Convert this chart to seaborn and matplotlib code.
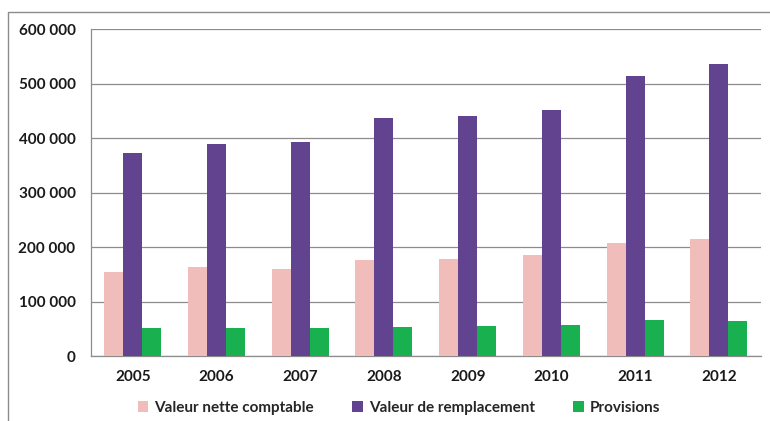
import matplotlib
matplotlib.use("Agg")
from matplotlib import pyplot as plt
from matplotlib.patches import Rectangle
from matplotlib.ticker import FuncFormatter, FixedLocator
import seaborn as sns
import pandas as pd
import numpy as np

years = ["2005", "2006", "2007", "2008", "2009", "2010", "2011", "2012"]
valeur_nette = [154000, 164000, 160000, 176000, 179000, 185000, 207000, 215000]
valeur_remplacement = [373000, 390000, 393000, 436000, 441000, 451000, 514000, 535000]
provisions = [51000, 52000, 52000, 54000, 55000, 57000, 66000, 64000]
series = ["Valeur nette comptable", "Valeur de remplacement", "Provisions"]
colors = ["#F0BDBA", "#62438F", "#19B14F"]

df = pd.DataFrame({
    "year": years * 3,
    "value": valeur_nette + valeur_remplacement + provisions,
    "serie": [series[0]] * 8 + [series[1]] * 8 + [series[2]] * 8,
})

sns.set_style("white")
plt.rcParams["font.family"] = ["Lato", "DejaVu Sans"]

fig = plt.figure(figsize=(7.7, 4.21), dpi=100)
ax = fig.add_axes([0.118, 0.154, 0.870, 0.777])

sns.barplot(data=df, x="year", y="value", hue="serie", palette=colors,
            width=0.68, saturation=1, ax=ax, edgecolor="none", zorder=3)

ax.set_ylim(0, 600000)
ax.set_xlim(-0.5, 7.5)
ax.set_yticks(np.arange(0, 600001, 100000))
ax.yaxis.set_major_formatter(FuncFormatter(lambda v, p: f"{int(v):,}".replace(",", " ")))
ax.yaxis.grid(True, color="#8c8c8c", linewidth=0.9, zorder=0)
ax.set_axisbelow(True)

for s in ["top", "right"]:
    ax.spines[s].set_visible(False)
for s in ["left", "bottom"]:
    ax.spines[s].set_color("#8c8c8c")
    ax.spines[s].set_linewidth(0.9)

# ticks between the year groups
ax.xaxis.set_minor_locator(FixedLocator(np.arange(-0.5, 8, 1)))
ax.tick_params(axis="x", which="major", length=0, pad=10)
ax.tick_params(axis="x", which="minor", length=5, color="#8c8c8c", direction="out")
ax.tick_params(axis="y", length=5, color="#8c8c8c", direction="out", pad=6)
for lab in ax.get_xticklabels() + ax.get_yticklabels():
    lab.set_fontsize(11)
    lab.set_fontweight("bold")
    lab.set_color("#1a1a1a")

ax.set_xlabel("")
ax.set_ylabel("")

handles, labels = ax.get_legend_handles_labels()
ax.legend(handles, labels, loc="center", bbox_to_anchor=(0.46, -0.158), ncol=3,
          frameon=False, prop={"size": 11, "weight": "bold"},
          handlelength=0.7, handleheight=0.7, handletextpad=0.4, columnspacing=2.5,
          borderpad=0)

# outer chart frame (cut off at the right and bottom)
fig.patches.append(Rectangle((8 / 770, -0.1), 1.1, 1 - 12 / 421 + 0.1,
                             transform=fig.transFigure, fill=False,
                             edgecolor="#8c8c8c", linewidth=1))

fig.savefig("out.png", dpi=100)
